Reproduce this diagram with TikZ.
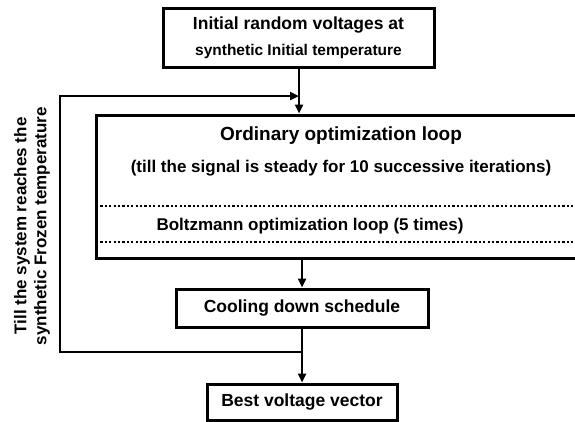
\documentclass[tikz,border=0pt]{standalone}
\usepackage{fontspec}
\setmainfont{Liberation Sans}
\usetikzlibrary{arrows.meta}
\begin{document}
\begin{tikzpicture}[x=1pt,y=-1pt,
  box/.style={draw, line width=3pt, inner sep=0pt, align=center},
  big/.style={font=\bfseries\fontsize{17.5}{27}\selectfont},
  ordf/.style={font=\bfseries\fontsize{19}{22}\selectfont},
  mid/.style={font=\bfseries\fontsize{17}{20}\selectfont},
  side/.style={font=\bfseries\fontsize{17}{20}\selectfont, align=center},
  arr/.style={line width=2.4pt, -{Triangle[length=9pt,width=8pt]}},
  dots/.style={line width=2.4pt, dash pattern=on 2.2pt off 2.2pt}]
\useasboundingbox (0,0) rectangle (575,421);
\node[box, minimum width=271pt, minimum height=59pt, big] (init) at (298.5,37.5) {Initial random voltages at\\[-1pt]{\fontsize{15.5}{18}\selectfont synthetic Initial temperature}};
\node[box, minimum width=494pt, minimum height=143pt] (loop) at (343,186.5) {};
\node[ordf] (ord) at (341,136) {Ordinary optimization loop};
\node[mid] (till) at (341,168) {(till the signal is steady for 10 successive iterations)};
\node[mid] (boltz) at (310,226) {Boltzmann optimization loop (5 times)};
\coordinate (d1l) at (96,206); \coordinate (d1r) at (575,206);
\coordinate (d2l) at (96,242); \coordinate (d2r) at (575,242);
\draw[dots] (d1l) -- (d1r);
\draw[dots] (d2l) -- (d2r);
\node[box, minimum width=252pt, minimum height=38pt, big] (cool) at (302,308) {Cooling down schedule};
\node[box, minimum width=190pt, minimum height=36pt, big] (best) at (302,402) {Best voltage vector};
\coordinate (top) at (299,96);
\coordinate (tl) at (60,96);
\coordinate (bl) at (60,352);
\coordinate (j) at (302,352);
\draw[arr] (init.south -| top) -- (loop.north -| top);
\draw[arr] (loop.south -| cool.north) -- (cool.north);
\draw[arr] (cool.south) -- (j) -- (best.north);
\draw[arr] (j) -- (bl) -- (tl) -- (top);
\node[side, rotate=90] (note) at (32,226) {Till the system reaches the\\synthetic Frozen temperature};
\end{tikzpicture}
\end{document}
